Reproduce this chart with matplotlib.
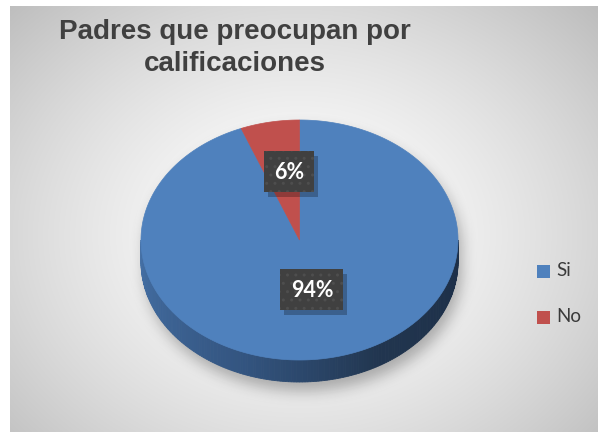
import numpy as np
import matplotlib
matplotlib.use("Agg")
import matplotlib.pyplot as plt
from matplotlib.patches import Polygon, Rectangle

# Data
categories = ["Si", "No"]
values = [94, 6]
colors = ["#4f81bd", "#c0504d"]
title = "Padres que preocupan por\ncalificaciones"

W, H = 598, 432
fig = plt.figure(figsize=(W / 100, H / 100), dpi=100)
fig.patch.set_facecolor("white")
ax = fig.add_axes([0, 0, 1, 1])
ax.set_xlim(0, W)
ax.set_ylim(H, 0)
ax.axis("off")

# Chart area background: soft radial gradient
x0, y0 = 10, 6
xs = np.arange(x0, W) + 0.5
ys = np.arange(y0, H) + 0.5
X, Y = np.meshgrid(xs, ys)
r = np.sqrt(((X - 300) / 320) ** 2 + ((Y - 235) / 260) ** 2)
g = np.clip(1 - 0.18 * r ** 1.5, 0, 1)
bg = np.dstack([g, g, g])
ax.imshow(bg, extent=(x0, W, H, y0), zorder=0, interpolation="bilinear")

# Pie geometry (elliptical projection with depth)
cx, cy = 299.5, 240.0
a, b = 158.5, 120.0
depth = 22.0

# Soft drop shadow under the pie
FX, FY = np.meshgrid(np.arange(W) + 0.5, np.arange(H) + 0.5)
sx, sy = 4.0, 9.0
inside_top = ((FX - cx - sx) / a) ** 2 + ((FY - cy - sy) / b) ** 2 <= 1
inside_bot = ((FX - cx - sx) / a) ** 2 + ((FY - cy - sy - depth) / b) ** 2 <= 1
inside_mid = (np.abs(FX - cx - sx) <= a) & (FY >= cy + sy) & (FY <= cy + sy + depth)
mask = (inside_top | inside_bot | inside_mid).astype(float)


def blur(img, sigma):
    k = np.arange(-int(3 * sigma), int(3 * sigma) + 1)
    ker = np.exp(-k ** 2 / (2 * sigma ** 2))
    ker /= ker.sum()
    out = np.apply_along_axis(lambda m: np.convolve(m, ker, mode="same"), 0, img)
    out = np.apply_along_axis(lambda m: np.convolve(m, ker, mode="same"), 1, out)
    return out


sh = blur(mask, 7.0)
shadow = np.zeros((H, W, 4))
shadow[..., 3] = sh * 0.28
ax.imshow(shadow, extent=(0, W, H, 0), zorder=1, interpolation="bilinear")


def pt(theta_deg, z=0.0):
    # theta measured clockwise from 12 o'clock
    t = np.deg2rad(theta_deg)
    return cx + a * np.sin(t), cy - b * np.cos(t) + z


# Side wall (front half), shaded strip by strip
side_stops = np.array([90, 150, 200, 270])
side_r = np.array([0.11, 0.13, 0.20, 0.27])
side_g = np.array([0.18, 0.21, 0.33, 0.44])
side_b = np.array([0.28, 0.31, 0.50, 0.65])
n = 180
thetas = np.linspace(90, 270, n + 1)
for i in range(n):
    t1, t2 = thetas[i], thetas[i + 1]
    tm = 0.5 * (t1 + t2)
    col = (np.interp(tm, side_stops, side_r),
           np.interp(tm, side_stops, side_g),
           np.interp(tm, side_stops, side_b))
    p1, p2 = pt(t1), pt(t2)
    q2, q1 = pt(t2, depth), pt(t1, depth)
    ax.add_patch(Polygon([p1, p2, q2, q1], closed=True, facecolor=col,
                         edgecolor=col, linewidth=0.6, zorder=2))

# Top face slices, clockwise from 12 o'clock
total = float(sum(values))
start = 0.0
mids = []
for v, c in zip(values, colors):
    span = 360.0 * v / total
    ang = np.linspace(start, start + span, max(int(span * 2), 2))
    verts = [(cx, cy)] + [pt(t) for t in ang]
    ax.add_patch(Polygon(verts, closed=True, facecolor=c, edgecolor=c,
                         linewidth=0.5, zorder=3))
    mids.append(start + span / 2)
    start += span

# Data labels in dark boxes
label_frac = [0.42, 0.58]
box_w = [63, 50]
box_h = 41
for v, m, f, bw in zip(values, mids, label_frac, box_w):
    t = np.deg2rad(m)
    lx = cx + a * np.sin(t) * f + (0 if v > 50 else 7)
    ly = cy - b * np.cos(t) * f
    ax.add_patch(Rectangle((lx - bw / 2 + 4, ly - box_h / 2 + 5), bw, box_h,
                           facecolor="black", alpha=0.25, edgecolor="none", zorder=4))
    ax.add_patch(Rectangle((lx - bw / 2, ly - box_h / 2), bw, box_h,
                           facecolor="#404040", edgecolor="#4e4e4e", hatch="..",
                           linewidth=0, zorder=5))
    ax.text(lx, ly + 1, f"{v}%", color="white", fontsize=15.5, fontweight="bold",
            family=["Lato", "DejaVu Sans"], ha="center", va="center", zorder=6)

# Title
ax.text(235, 48, title, ha="center", va="center", fontsize=20, fontweight="bold",
        color="#404040", family=["Liberation Sans", "DejaVu Sans"],
        linespacing=1.3, zorder=6)

# Legend
leg_y = [271, 317]
for lab, c, yy in zip(categories, colors, leg_y):
    ax.add_patch(Rectangle((537, yy - 6.5), 13, 13, facecolor=c, edgecolor="none", zorder=6))
    ax.text(556, yy, lab, ha="left", va="center", fontsize=13.5, color="#3a3a3a",
            family=["Lato", "DejaVu Sans"], zorder=6)

fig.savefig("out.png", dpi=100, facecolor="white")
